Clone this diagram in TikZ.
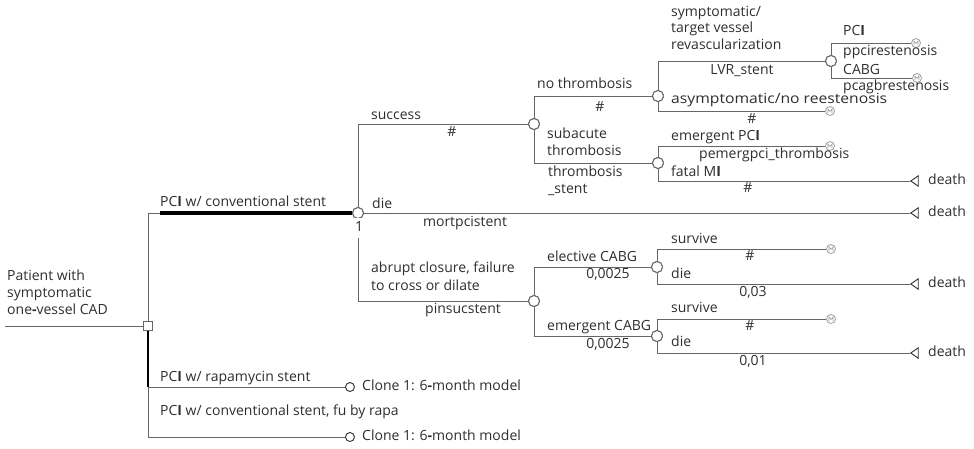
\documentclass[tikz,border=0pt]{standalone}
\usepackage{fontspec}
\setmainfont{Open Sans}
\usetikzlibrary{shapes.geometric}
\definecolor{ink}{HTML}{2E2E2E}
\definecolor{branch}{HTML}{666666}
\definecolor{markov}{HTML}{A0A0A0}
\newcommand{\bI}{\textbf{I}}
\newcommand{\bh}{\textbf{-}}
\begin{document}
\begin{tikzpicture}[x=1pt,y=-1pt,
  font=\fontsize{14}{16}\selectfont,
  br/.style={draw=branch, line width=1pt},
  optimal/.style={draw=black, line width=4.5pt},
  chosen/.style={draw=black, line width=2pt},
  lbl/.style={text=ink, inner sep=0pt, text height=9pt, text depth=3pt, anchor=west},
  clbl/.style={lbl, anchor=center},
  chance/.style={circle, draw=branch, fill=white, line width=1pt, minimum size=11pt, inner sep=0pt},
  decision/.style={rectangle, draw=branch, fill=white, line width=1pt, minimum size=9pt, inner sep=0pt},
  term/.style={isosceles triangle, isosceles triangle apex angle=70, shape border rotate=180,
    draw=ink, line width=0.9pt, minimum size=7.5pt, inner sep=0pt},
  % terminal symbol: small grey ring with a tiny M-like mark inside
  mk/.style={circle, draw=markov, line width=0.8pt, minimum size=9pt, inner sep=0pt,
    path picture={\draw[markov, line width=0.6pt]
      ([xshift=-2pt,yshift=-2pt]path picture bounding box.center) -- ++(0,4pt)
      -- ++(2pt,-2.5pt) -- ++(2pt,2.5pt) -- ++(0,-4pt);}},
  clone/.style={circle, draw=ink, line width=0.9pt, minimum size=9pt, inner sep=0pt}
]
\useasboundingbox (0,0) rectangle (974,448);

% ---- tree nodes ----
\coordinate (R) at (5,326);
\node[decision] (D) at (148,326) {};
\node[chance] (C1) at (358,213) {};
\node[chance] (C2) at (534,124) {};
\node[chance] (C3) at (534,301) {};
\node[chance] (C4) at (658,96) {};
\node[chance] (C5) at (658,163) {};
\node[chance] (C6) at (831,61) {};
\node[chance] (C7) at (657,267) {};
\node[chance] (C8) at (657,336) {};

\node[mk] (M1) at (830,111) {};
\node[mk] (M2) at (916,43) {};
\node[mk] (M3) at (917,78) {};
\node[mk] (M4) at (830,146) {};
\node[mk] (M5) at (831,249) {};
\node[mk] (M6) at (831,319) {};

\node[term, anchor=apex] (T1) at (910,213) {};
\node[term, anchor=apex] (T2) at (910,181) {};
\node[term, anchor=apex] (T3) at (910,284) {};
\node[term, anchor=apex] (T4) at (910,353) {};

\node[clone] (K1) at (350,387) {};
\node[clone] (K2) at (350,437) {};

\coordinate (optS) at (160,213);
\coordinate (rapaCorner) at (148,387);

% ---- connectors ----
\draw[br] (R) -- (D);
\draw[br] (D) |- (C1);
\draw[optimal] (optS) -- (C1);
\draw[br] (D) |- (K1);
\draw[br] (rapaCorner) |- (K2);
\draw[chosen] (D) -- (rapaCorner);

\draw[br] (C1) |- (C2);
\draw[br] (C1) -- (T1);
\draw[br] (C1) |- (C3);

\draw[br] (C2) |- (C4);
\draw[br] (C2) |- (C5);
\draw[br] (C4) |- (C6);
\draw[br] (C4) |- (M1);
\draw[br] (C6) |- (M2);
\draw[br] (C6) |- (M3);
\draw[br] (C5) |- (M4);
\draw[br] (C5) |- (T2);

\draw[br] (C3) |- (C7);
\draw[br] (C3) |- (C8);
\draw[br] (C7) |- (M5);
\draw[br] (C7) |- (T3);
\draw[br] (C8) |- (M6);
\draw[br] (C8) |- (T4);

% redraw node outlines above connectors
\foreach \n in {C1,C2,C3,C4,C5,C6,C7,C8}{\node[chance] at (\n) {};}
\node[decision] at (D) {};

% ---- labels ----
\node[lbl] (p1) at (7,277) {Patient with};
\node[lbl] (p2) at (7,294) {symptomatic};
\node[lbl] (p3) at (7,311) {one\bh vessel CAD};

\node[lbl] (a1) at (160,203) {PC\bI{} w/ conventional stent};
\node[lbl] (a2) at (160,378) {PC\bI{} w/ rapamycin stent};
\node[lbl] (a3) at (160,412) {PC\bI{} w/ conventional stent, fu by rapa};
\node[lbl] (k1) at (362,387) {Clone 1: 6\bh month model};
\node[lbl] (k2) at (362,437) {Clone 1: 6\bh month model};

\node[lbl] (s1) at (371,116) {success};
\node[clbl] (s2) at (452,133) {\#};
\node[lbl] (d1) at (372,205) {die};
\node[clbl] (d2) at (465,223) {mortpcistent};
\node[clbl, fill=white, inner ysep=4pt, inner xsep=1pt] (one) at (359,228) {1};
\node[lbl] (b1) at (371,269) {abrupt closure, failure};
\node[lbl] (b2) at (371,287) {to cross or dilate};
\node[clbl] (b3) at (463,310) {pinsucstent};

\node[lbl] (n1) at (537,85) {no thrombosis};
\node[clbl] (n2) at (600,108) {\#};
\node[lbl] (t1) at (547,135) {subacute};
\node[lbl] (t2) at (547,152) {thrombosis};
\node[lbl] (t3) at (548,173) {thrombosis};
\node[lbl] (t4) at (548,190) {\_stent};

\node[lbl] (v1) at (671,13) {symptomatic/};
\node[lbl] (v2) at (671,29) {target vessel};
\node[lbl] (v3) at (671,46) {revascularization};
\node[clbl] (v4) at (742,71) {LVR\_stent};
\node[lbl] (v5) at (671,100) {\scalebox{1.12}[1]{asymptomatic/no reestenosis}};
\node[clbl] (v6) at (752,120) {\#};

\node[lbl] (r1) at (843,32) {PC\bI};
\node[lbl] (r2) at (843,52) {ppcirestenosis};
\node[lbl] (r3) at (843,71) {CABG};
\node[lbl] (r4) at (843,87) {pcagbrestenosis};

\node[lbl] (e1) at (671,137) {emergent PC\bI};
\node[lbl] (e2) at (699,155) {pemergpci\_thrombosis};
\node[lbl] (e3) at (671,173) {fatal M\bI};
\node[clbl] (e4) at (748,189) {\#};

\node[lbl] (g1) at (547,258) {elective CABG};
\node[clbl] (g2) at (608,275) {0,0025};
\node[lbl] (g3) at (547,327) {emergent CABG};
\node[clbl] (g4) at (608,345) {0,0025};

\node[lbl] (h1) at (671,240) {survive};
\node[clbl] (h2) at (750,257) {\#};
\node[lbl] (h3) at (671,275) {die};
\node[clbl] (h4) at (753,293) {0,03};
\node[lbl] (h5) at (671,309) {survive};
\node[clbl] (h6) at (750,327) {\#};
\node[lbl] (h7) at (671,343) {die};
\node[clbl] (h8) at (753,362) {0,01};

\node[lbl] (x1) at (928,181) {death};
\node[lbl] (x2) at (928,213) {death};
\node[lbl] (x3) at (928,284) {death};
\node[lbl] (x4) at (928,353) {death};
\end{tikzpicture}
\end{document}
